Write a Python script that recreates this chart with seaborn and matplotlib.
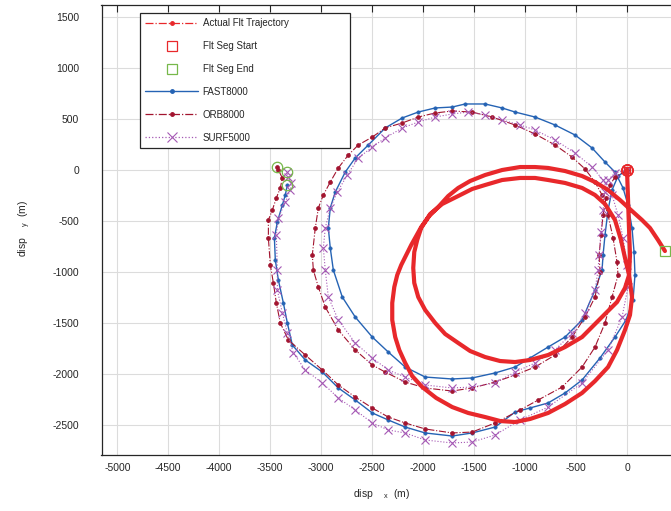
import matplotlib
matplotlib.use("Agg")
import matplotlib.pyplot as plt
from matplotlib.lines import Line2D
import seaborn as sns

# ---- Actual flight trajectory (m) ----
actual_x = [0, 10, 20, 29, 20, -20, -98, -216, -441, -608, -774, -951, -1098, -1245,
            -1392, -1539, -1656, -1784, -1882, -1980, -2048, -2087, -2097, -2087, -2058,
            -2019, -1931, -1813, -1656, -1519, -1392, -1225, -1049, -902, -774, -608,
            -441, -314, -216, -118, -59, -20, 20, 49, 29, -20, -98, -186, -314, -441,
            -608, -774, -951, -1098, -1245, -1392, -1558, -1715, -1872, -2009, -2107,
            -2176, -2234, -2274, -2303, -2303, -2283, -2254, -2215, -2166, -2117, -2019,
            -1940, -1852, -1754, -1656, -1539, -1392, -1225, -1049, -902, -774, -608,
            -441, -314, -186, -69, 49, 147, 225, 304, 372]
actual_y = [0, -294, -588, -833, -1029, -1156, -1294, -1411, -1637, -1735, -1813, -1862,
            -1882, -1872, -1833, -1774, -1695, -1607, -1499, -1372, -1245, -1107, -960,
            -804, -686, -568, -431, -333, -255, -186, -147, -98, -78, -78, -98, -127,
            -176, -245, -333, -490, -686, -862, -1029, -1245, -1421, -1568, -1764, -1931,
            -2068, -2185, -2293, -2381, -2440, -2470, -2460, -2421, -2381, -2323, -2234,
            -2127, -2019, -1891, -1764, -1637, -1470, -1303, -1147, -1029, -931, -833,
            -735, -559, -451, -363, -255, -176, -108, -49, 0, 29, 29, 20, -10, -59, -118,
            -196, -294, -402, -490, -568, -686, -794]

# ---- FAST8000 estimate ----
fast_x = [0, -88, -147, -186, -216, -235, -245, -314, -441, -608, -774, -951, -1098,
          -1294, -1519, -1715, -1980, -2176, -2342, -2499, -2666, -2793, -2881, -2911,
          -2930, -2911, -2862, -2764, -2666, -2538, -2372, -2205, -2048, -1882, -1715,
          -1588, -1392, -1225, -1098, -902, -706, -510, -343, -216, -118, -39, 10, 49,
          69, 78, 59, -10, -118, -265, -441, -608, -774, -951, -1098, -1294, -1519,
          -1715, -1980, -2176, -2342, -2499, -2666, -2832, -2989, -3156, -3283, -3332,
          -3371, -3420, -3450, -3459, -3430, -3381, -3352, -3332]
fast_y = [0, -59, -196, -392, -637, -833, -980, -1176, -1470, -1637, -1735, -1842, -1931,
          -1989, -2038, -2048, -2029, -1931, -1784, -1637, -1441, -1245, -980, -764,
          -568, -372, -216, -20, 118, 245, 412, 510, 568, 608, 617, 647, 647, 608, 568,
          519, 441, 343, 216, 78, -20, -176, -343, -568, -804, -1029, -1274, -1470,
          -1637, -1842, -2058, -2185, -2283, -2332, -2372, -2519, -2577, -2607, -2577,
          -2519, -2450, -2381, -2254, -2136, -1980, -1862, -1715, -1499, -1303, -1078,
          -882, -666, -510, -343, -245, -147]

# ---- ORB8000 estimate ----
orb_x = [0, -118, -167, -206, -235, -255, -274, -265, -314, -412, -539, -706, -902,
         -1098, -1294, -1519, -1715, -1980, -2176, -2372, -2499, -2666, -2832, -2960,
         -3028, -3077, -3087, -3058, -3028, -2979, -2911, -2832, -2734, -2636, -2499,
         -2372, -2205, -2048, -1882, -1715, -1519, -1323, -1098, -902, -706, -539, -412,
         -314, -245, -186, -137, -98, -88, -147, -216, -314, -441, -637, -872, -1049,
         -1294, -1519, -1715, -1980, -2176, -2342, -2499, -2666, -2832, -2989, -3156,
         -3322, -3401, -3440, -3469, -3499, -3518, -3518, -3479, -3440, -3401, -3381,
         -3420, -3430]
orb_y = [0, -69, -147, -274, -441, -637, -833, -1000, -1245, -1441, -1637, -1813, -1931,
         -2009, -2078, -2136, -2166, -2136, -2078, -1980, -1911, -1764, -1568, -1343,
         -1147, -980, -833, -568, -372, -245, -118, 20, 147, 245, 323, 412, 461, 519,
         559, 578, 568, 519, 441, 353, 245, 127, 10, -118, -245, -441, -666, -902,
         -1029, -1245, -1499, -1735, -1931, -2127, -2254, -2352, -2479, -2568, -2577,
         -2538, -2479, -2421, -2332, -2225, -2107, -1960, -1813, -1666, -1499, -1303,
         -1107, -931, -666, -490, -392, -274, -176, -78, 0, 29]

# ---- SURF5000 estimate ----
surf_x = [0, -118, -186, -216, -235, -255, -274, -284, -314, -412, -539, -706, -902,
          -1098, -1294, -1519, -1715, -1980, -2176, -2342, -2499, -2666, -2832, -2930,
          -2960, -2979, -2960, -2911, -2842, -2744, -2636, -2499, -2372, -2205, -2048,
          -1882, -1715, -1558, -1392, -1225, -1049, -902, -706, -510, -343, -235, -147,
          -88, -39, 0, 10, -49, -186, -441, -774, -1049, -1294, -1519, -1715, -1980,
          -2176, -2342, -2499, -2666, -2832, -2989, -3156, -3273, -3332, -3381, -3430,
          -3430, -3440, -3420, -3352, -3303, -3293, -3322, -3332]
surf_y = [0, -29, -98, -216, -392, -608, -833, -980, -1176, -1401, -1597, -1764, -1891,
          -1980, -2087, -2127, -2136, -2107, -2029, -1960, -1842, -1695, -1470, -1245,
          -980, -764, -568, -372, -216, -49, 118, 225, 314, 412, 470, 519, 549, 568,
          539, 490, 441, 392, 294, 167, 29, -98, -245, -441, -666, -931, -1147, -1441,
          -1764, -2087, -2323, -2450, -2597, -2666, -2675, -2646, -2577, -2548, -2479,
          -2352, -2234, -2087, -1960, -1793, -1597, -1401, -1176, -980, -637, -470,
          -314, -196, -127, -69, -20]

labels = ["Actual Flt Trajectory", "Flt Seg Start", "Flt Seg End",
          "FAST8000", "ORB8000", "SURF5000"]
x_ticks = list(range(-5000, 1, 500))
y_ticks = list(range(-2500, 1501, 500))

RED = "#E8282B"
GREEN = "#77B84A"
BLUE = "#2563B4"
MAROON = "#A2142F"
PURPLE = "#A558B4"
INK = "#262626"

sns.set_style("white")
plt.rcParams["font.family"] = ["Liberation Sans", "DejaVu Sans"]
plt.rcParams["mathtext.default"] = "regular"

fig = plt.figure(figsize=(6.71, 5.11), dpi=100)
W, H = 671.0, 511.0
ax = fig.add_axes([101.5 / W, 1 - 455 / H, (678 - 101.5) / W, 450 / H])

sns.lineplot(x=fast_x, y=fast_y, sort=False, estimator=None, ax=ax, color=BLUE,
             linewidth=1.0, marker="o", markersize=2.4, markeredgecolor=BLUE,
             markeredgewidth=0.5, zorder=2)
sns.lineplot(x=orb_x, y=orb_y, sort=False, estimator=None, ax=ax, color=MAROON,
             linewidth=0.8, linestyle="-.", marker="o", markersize=2.8,
             markeredgecolor=MAROON, markeredgewidth=0.5, zorder=2)
sns.lineplot(x=surf_x, y=surf_y, sort=False, estimator=None, ax=ax, color=PURPLE,
             linewidth=0.8, linestyle=":", marker="x", markersize=5.5,
             markeredgecolor=PURPLE, markeredgewidth=0.8, zorder=2)
sns.lineplot(x=actual_x, y=actual_y, sort=False, estimator=None, ax=ax, color=RED,
             linewidth=3.0, zorder=3)

# Segment start / end markers
ax.plot([0, 0, 0], [0, 0, 0], linestyle="none", marker="o", markersize=8,
        markerfacecolor="none", markeredgecolor=RED, markeredgewidth=1.0, zorder=4)
ax.plot([actual_x[0]], [actual_y[0]], linestyle="none", marker="s", markersize=5,
        markerfacecolor="none", markeredgecolor=RED, markeredgewidth=1.0, zorder=4)
ax.plot([fast_x[-1], orb_x[-1], surf_x[-1]], [fast_y[-1], orb_y[-1], surf_y[-1]],
        linestyle="none", marker="o", markersize=7.5, markerfacecolor="none",
        markeredgecolor=GREEN, markeredgewidth=0.9, zorder=4)
ax.plot([actual_x[-1]], [actual_y[-1]], linestyle="none", marker="s", markersize=6.5,
        markerfacecolor="none", markeredgecolor=GREEN, markeredgewidth=0.9, zorder=4)

ax.set_xlim(-5155, 500)
ax.set_ylim(-2793, 1617)
ax.set_xticks(x_ticks)
ax.set_yticks(y_ticks)
ax.set_xticklabels([str(v) for v in x_ticks])
ax.set_yticklabels([str(v) for v in y_ticks])
ax.grid(True, color="#DCDCDC", linewidth=0.8)
ax.set_axisbelow(True)
ax.tick_params(direction="in", length=5, width=0.8, top=True, right=True,
               labelsize=7.5, labelcolor=INK, color=INK)
ax.tick_params(axis="x", pad=6)
ax.tick_params(axis="y", pad=16)
for sp in ax.spines.values():
    sp.set_visible(True)
    sp.set_color(INK)
    sp.set_linewidth(0.9)

ax.set_xlabel(r"disp    $_{x}$  (m)", fontsize=7.5, color=INK)
ax.set_ylabel(r"disp    $_{y}$  (m)", fontsize=7.5, color=INK)
ax.xaxis.set_label_coords(0.4866, -0.072)
ax.yaxis.set_label_coords(-0.118, 0.504)

handles = [
    Line2D([], [], color=RED, linestyle="-.", linewidth=0.9, marker="o",
           markersize=2.5, markeredgecolor=RED),
    Line2D([], [], color=RED, linestyle="none", marker="s", markersize=6.5,
           markerfacecolor="none", markeredgecolor=RED, markeredgewidth=0.9),
    Line2D([], [], color=GREEN, linestyle="none", marker="s", markersize=6.5,
           markerfacecolor="none", markeredgecolor=GREEN, markeredgewidth=0.9),
    Line2D([], [], color=BLUE, linestyle="-", linewidth=1.0, marker="o",
           markersize=2.5, markeredgecolor=BLUE),
    Line2D([], [], color=MAROON, linestyle="-.", linewidth=0.9, marker="o",
           markersize=2.5, markeredgecolor=MAROON),
    Line2D([], [], color=PURPLE, linestyle=":", linewidth=0.9, marker="x",
           markersize=6.5, markeredgecolor=PURPLE, markeredgewidth=0.8),
]
leg = ax.legend(handles, labels, loc="upper left",
                bbox_to_anchor=(140 / W, 1 - 148 / H, 210 / W, 135 / H),
                bbox_transform=fig.transFigure, mode="expand", borderaxespad=0,
                fontsize=7, handlelength=5.4, handletextpad=0.5, labelspacing=1.32,
                borderpad=0.55, frameon=True, fancybox=False, framealpha=1,
                edgecolor=INK, numpoints=1)
leg.get_frame().set_linewidth(0.9)
for t in leg.get_texts():
    t.set_color(INK)

fig.savefig("out.png", dpi=100)
